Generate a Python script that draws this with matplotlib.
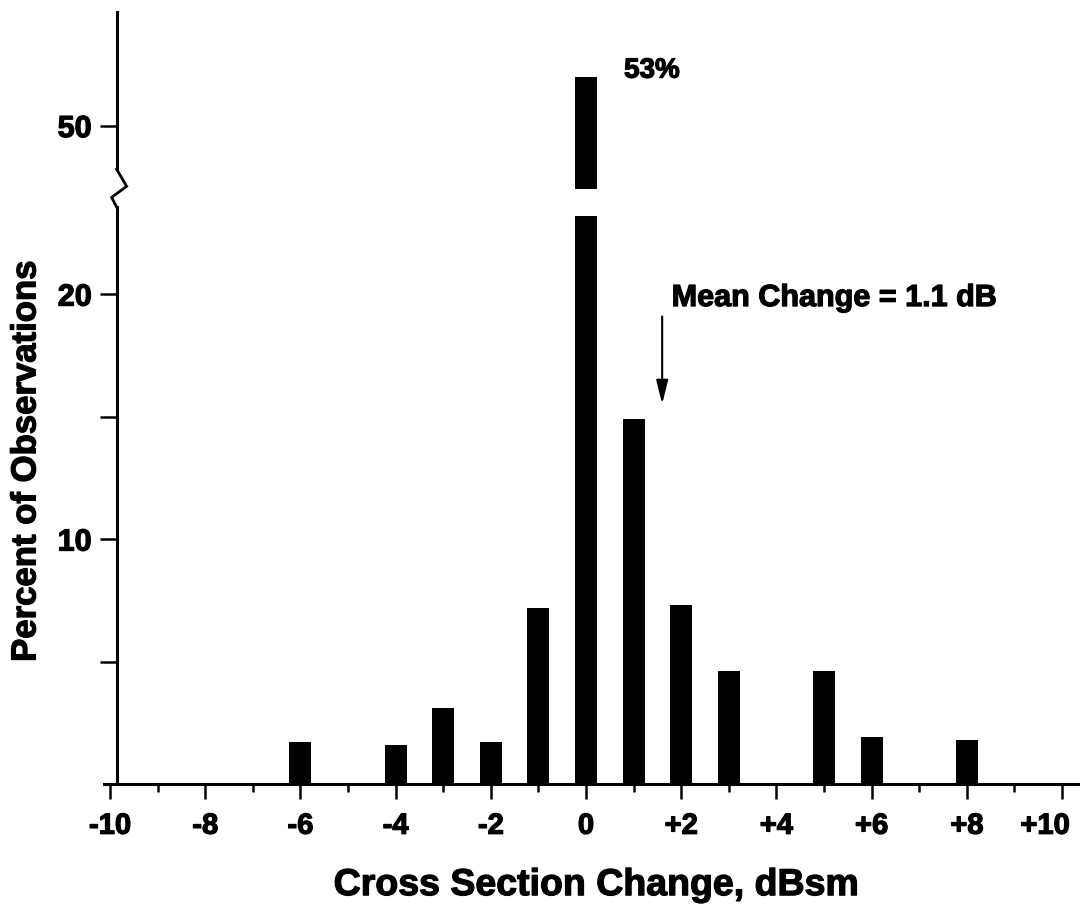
import numpy as np
import matplotlib
matplotlib.use("Agg")
import matplotlib.pyplot as plt
import matplotlib.patheffects as pe
from matplotlib.transforms import ScaledTranslation

# histogram of cross section change
change_db = [-6, -4, -3, -2, -1, 0, 1, 2, 3, 5, 6, 8]
percent = [1.7, 1.6, 3.1, 1.7, 7.2, 53, 14.9, 7.3, 4.6, 4.6, 1.9, 1.8]

x_ticks = [-10, -8, -6, -4, -2, 0, 2, 4, 6, 8, 10]
x_labels = ["-10", "-8", "-6", "-4", "-2", "0", "+2", "+4", "+6", "+8", "+10"]
y_ticks = [10, 20, 50]
y_minor = [5, 15]

mean_change = 1.6
peak_label = "53%"
mean_label = "Mean Change = 1.1 dB"

# broken y axis: linear up to 23.3, squeezed gap, then a shorter upper segment
data_knots = [0, 23.3, 47, 57]
disp_knots = [0, 23.3, 24.9, 31.5]


def fwd(y):
    return np.interp(y, data_knots, disp_knots)


def inv(d):
    return np.interp(d, disp_knots, data_knots)


plt.rcParams["font.family"] = ["Liberation Sans", "DejaVu Sans"]
plt.rcParams["font.weight"] = "bold"
heavy = [pe.withStroke(linewidth=0.9, foreground="black")]

fig = plt.figure(figsize=(10.8, 9.22), dpi=100)
ax = fig.add_axes([0.0961, 0.1497, 0.9018, 0.8368])
ax.set_yscale("function", functions=(fwd, inv))
ax.set_xlim(-10.13, 10.33)
ax.set_ylim(0, 57)

ax.bar(change_db, percent, width=0.46, color="black", zorder=3)

# white notch through the tall bar where the axis is broken
ax.bar(0, inv(24.3) - inv(23.2), bottom=inv(23.2), width=0.6, color="white", zorder=4)

for side in ["top", "right", "left"]:
    ax.spines[side].set_visible(False)
ax.spines["bottom"].set_linewidth(2.2)
ax.spines["left"].set_position(("data", -9.86))

# left axis line with the zigzag break
x0 = -9.86
ax.plot([x0, x0], [0, inv(23.55)], color="black", lw=2.2, clip_on=False, zorder=5)
ax.plot([x0, x0 + 0.21, x0 - 0.105, x0],
        [inv(25.1), inv(24.4), inv(23.95), inv(23.55)],
        color="black", lw=2.0, clip_on=False, zorder=5, solid_joinstyle="miter")
ax.plot([x0, x0], [inv(25.1), 57], color="black", lw=2.2, clip_on=False, zorder=5)

ax.set_xticks(x_ticks)
ax.set_xticklabels(x_labels)
ax.set_xticks([v for v in range(-9, 10, 2)], minor=True)
ax.set_yticks(y_ticks)
ax.set_yticklabels([str(v) for v in y_ticks])
ax.set_yticks(y_minor, minor=True)

ax.tick_params(axis="x", which="major", direction="out", length=11, width=1.8,
               pad=9, labelsize=21)
ax.tick_params(axis="x", which="minor", direction="out", length=6, width=1.8)
ax.tick_params(axis="y", which="both", direction="out", length=12, width=1.8,
               pad=6, labelsize=22)

for lab in ax.get_xticklabels() + ax.get_yticklabels():
    lab.set_path_effects(heavy)

# the last x label sits a little left of its tick so it stays on the page
last = ax.get_xticklabels()[-1]
last.set_transform(last.get_transform() + ScaledTranslation(-0.17, 0, fig.dpi_scale_trans))

ax.text(0.8, 53.4, peak_label, fontsize=20, fontweight="bold", ha="left", va="center",
        path_effects=heavy)
ax.text(1.8, inv(19.84), mean_label, fontsize=22, fontweight="bold", ha="left", va="center",
        path_effects=heavy)
ax.annotate("", xy=(mean_change, inv(15.4)), xytext=(mean_change, inv(19.2)),
            arrowprops=dict(arrowstyle="-|>,head_length=0.8,head_width=0.2",
                            mutation_scale=18, lw=1.5, color="black"))

fig.text(0.552, 0.04, "Cross Section Change, dBsm", fontsize=27, fontweight="bold",
         ha="center", va="center", path_effects=heavy)
fig.text(0.024, 0.5, "Percent of Observations", fontsize=25, fontweight="bold",
         ha="center", va="center", rotation=90, path_effects=heavy)

fig.savefig("out.png", dpi=100, facecolor="white")
